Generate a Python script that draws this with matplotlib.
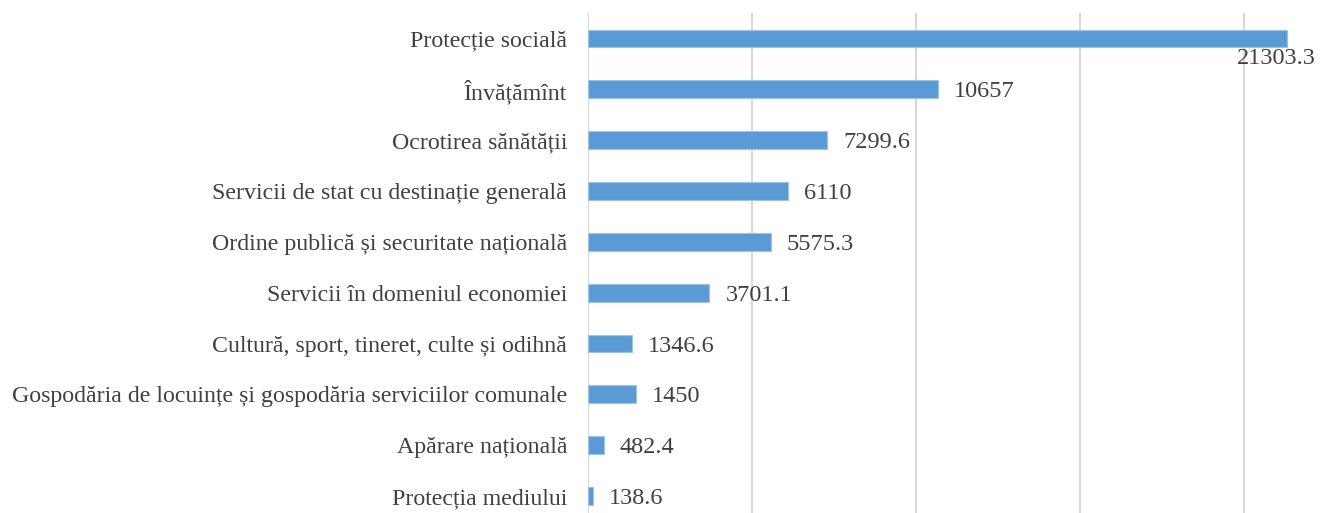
import matplotlib.pyplot as plt

# cheltuieli pe domenii (mil. lei)
categories = [
    "Protecție socială",
    "Învățămînt",
    "Ocrotirea sănătății",
    "Servicii de stat cu destinație generală",
    "Ordine publică și securitate națională",
    "Servicii în domeniul economiei",
    "Cultură, sport, tineret, culte și odihnă",
    "Gospodăria de locuințe și gospodăria serviciilor comunale",
    "Apărare națională",
    "Protecția mediului",
]
values = [21303.3, 10657, 7299.6, 6110, 5575.3, 3701.1, 1346.6, 1450, 482.4, 138.6]
value_labels = ["21303.3", "10657", "7299.6", "6110", "5575.3", "3701.1",
                "1346.6", "1450", "482.4", "138.6"]

plt.rcParams['font.family'] = ['Liberation Serif', 'DejaVu Serif']

fig = plt.figure(figsize=(13.2, 5.13), dpi=100)
ax = fig.add_axes([588 / 1320, 0, 732 / 1320, 500 / 513])

pos = list(range(len(categories)))
ax.barh(pos, values, height=0.35, color='#5b9bd5', edgecolor='#9dc3e6',
        linewidth=0.8, zorder=3)

ax.set_xlim(0, 22317)
ax.set_ylim(9.333, -0.5)
ax.set_xticks([0, 5000, 10000, 15000, 20000])
ax.set_xticklabels([])
ax.grid(axis='x', color='#d9d9d9', linewidth=1.5, zorder=0)
ax.tick_params(axis='x', length=0)
ax.tick_params(axis='y', length=0, pad=15, labelsize=17.2, labelcolor='#404040')
ax.set_yticks(pos)
ax.set_yticklabels(categories)
for s in ax.spines.values():
    s.set_visible(False)

for i, (v, lab) in enumerate(zip(values, value_labels)):
    if i == 0:
        ax.annotate(lab, (v, i + 0.175), xytext=(-10, -1), textcoords='offset pixels',
                    ha='center', va='top', fontsize=17.5, color='#404040', zorder=4)
    else:
        ax.annotate(lab, (v, i), xytext=(16, 0), textcoords='offset pixels',
                    ha='left', va='center_baseline', fontsize=17.5, color='#404040', zorder=4)

fig.savefig('out.png', dpi=100, facecolor='white')
